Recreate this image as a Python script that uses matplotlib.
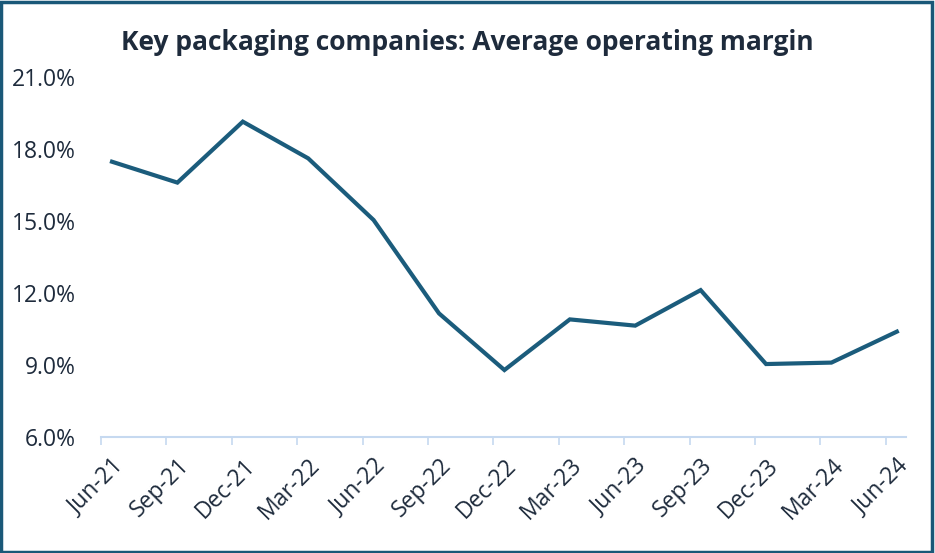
import numpy as np
import matplotlib.pyplot as plt
from matplotlib.patches import Rectangle

dpi = 100

quarters = ['Jun-21', 'Sep-21', 'Dec-21', 'Mar-22', 'Jun-22', 'Sep-22', 'Dec-22',
            'Mar-23', 'Jun-23', 'Sep-23', 'Dec-23', 'Mar-24', 'Jun-24']
margin = [17.47, 16.6, 19.14, 17.61, 15.04, 11.15, 8.79,
          10.9, 10.64, 12.12, 9.04, 9.1, 10.39]
y_ticks = [6, 9, 12, 15, 18, 21]

line_col = '#1b5c7c'
text_col = '#1e2b3c'
axis_col = '#c6d9f0'

plt.rcParams['font.family'] = ['Open Sans', 'DejaVu Sans']

fig = plt.figure(figsize=(935/dpi, 553/dpi), dpi=dpi)
# axes box in pixels: x 101..906, y 77..437
ax = fig.add_axes([101/935, (553-437)/553, (906-101)/935, (437-77)/553])

x = np.arange(len(quarters))
ax.plot(x, margin, c=line_col, lw=3, solid_joinstyle='miter')

ax.set_ylim(6, 21)
ax.set_xlim(-0.168, 12.14)
ax.set_yticks(y_ticks)
ax.set_yticklabels([f'{v:.1f}%' for v in y_ticks], fontsize=16.5, color=text_col)
ax.tick_params(axis='y', length=0, pad=18)

ax.set_xticks(x)
ax.set_xticklabels(quarters, rotation=45, ha='right', rotation_mode='anchor',
                   fontsize=16.5, color=text_col)
ax.tick_params(axis='x', which='major', length=0, pad=12)
ax.set_xticks(x - 0.168, minor=True)
ax.tick_params(axis='x', which='minor', length=6, width=1.2, color=axis_col)

for s in ['top', 'right', 'left']:
    ax.spines[s].set_visible(False)
ax.spines['bottom'].set_color(axis_col)
ax.spines['bottom'].set_linewidth(1.5)

fig.text(0.5, 1 - 43/553, 'Key packaging companies: Average operating margin',
         ha='center', va='center', fontsize=19, fontweight='bold', color=text_col)

fig.patches.append(Rectangle((0.001, 0.002), 0.996, 0.995, transform=fig.transFigure,
                             fill=False, edgecolor='#1a5878', lw=2.5))

fig.savefig('out.png', dpi=dpi)
